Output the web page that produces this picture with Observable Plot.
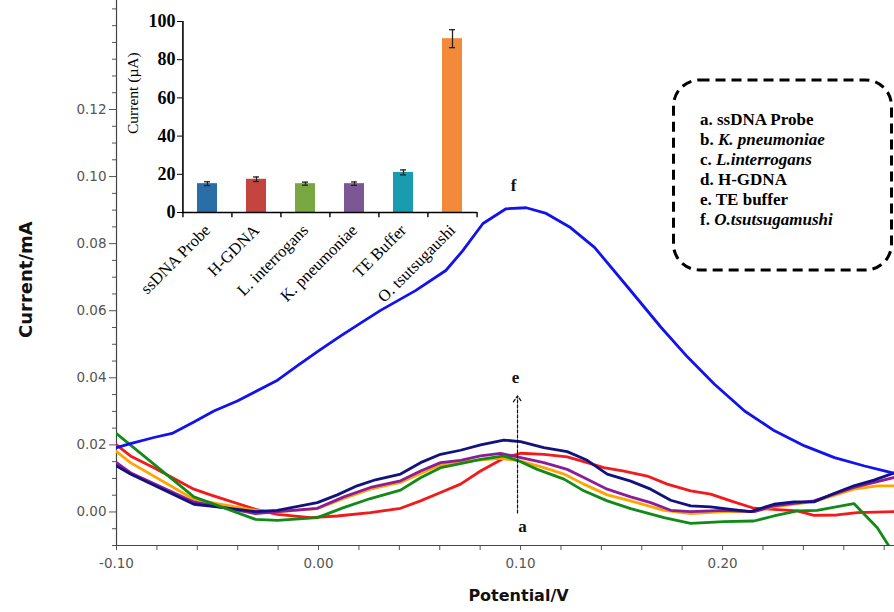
<!DOCTYPE html>
<html><head><meta charset="utf-8">
<script src="https://cdn.jsdelivr.net/npm/d3@7"></script>
<script src="https://cdn.jsdelivr.net/npm/@observablehq/plot@0.6"></script>
<style>
body{margin:0;background:#fff;}
#wrap{position:relative;width:894px;height:612px;overflow:hidden;background:#fff;}
#main,#inset{position:absolute;top:0;}
#main{left:0;}
#inset{left:100px;}
#over{position:absolute;left:0;top:0;pointer-events:none;}
</style></head>
<body>
<div id="wrap"><div id="main"></div><div id="inset"></div>
<svg id="over" width="894" height="612"></svg></div>
<script>
// ---- DPV curves (Potential V, Current mA) ----
const probeV = [-0.100,-0.0617,-0.0312,-0.0204,-0.0006,0.0124,0.0257,0.0406,0.0505,0.0604,0.0703,0.0802,0.0917,0.0984,0.1083,0.1215,0.1313,0.1429,0.1545,0.171,0.1842,0.2006,0.2155,0.2254,0.237,0.2468,0.265,0.2766,0.2851];
const probeI = [0.0234,0.0045,-0.0022,-0.0025,-0.0017,0.0013,0.0040,0.0065,0.0102,0.0132,0.0144,0.0157,0.0167,0.0154,0.0127,0.0098,0.0063,0.0033,0.0010,-0.0017,-0.0034,-0.0029,-0.0027,-0.0012,0.0003,0.0005,0.0025,-0.0047,-0.0128];

const kpnV = [-0.100,-0.0931,-0.0617,-0.0502,-0.0312,-0.0204,-0.0006,0.0125,0.0257,0.0406,0.0505,0.0604,0.0703,0.0802,0.090,0.100,0.1115,0.1215,0.1313,0.1429,0.1545,0.171,0.1842,0.2006,0.2155,0.2254,0.2452,0.265,0.2766,0.2851];
const kpnI = [0.0180,0.0147,0.0038,0.0025,0.0005,0.0000,0.0010,0.0040,0.0068,0.0088,0.0115,0.0140,0.0148,0.0155,0.0160,0.0152,0.0132,0.0113,0.0083,0.0051,0.0033,0.0005,-0.0005,0.0001,0.0001,0.0015,0.0031,0.0068,0.0078,0.0078];

const lintV = [-0.100,-0.0931,-0.0617,-0.0312,-0.0204,-0.0006,0.0125,0.0257,0.0406,0.0505,0.0604,0.0703,0.0802,0.0901,0.0984,0.1115,0.1231,0.1313,0.1429,0.1545,0.1644,0.1743,0.1842,0.2006,0.2155,0.2254,0.2452,0.265,0.2851];
const lintI = [0.0147,0.0117,0.0030,-0.0005,0.0001,0.0011,0.0045,0.0073,0.0093,0.0122,0.0147,0.0154,0.0167,0.0175,0.0164,0.0147,0.0127,0.0103,0.0068,0.0045,0.0028,0.0005,0.0001,0.0005,0.0001,0.0018,0.0033,0.0073,0.0103];

const hgdnaV = [-0.100,-0.0931,-0.0815,-0.0617,-0.0535,-0.0312,-0.0204,-0.004,0.0093,0.0257,0.0406,0.0505,0.0604,0.0703,0.0802,0.0917,0.100,0.1115,0.1231,0.133,0.1412,0.1512,0.1627,0.1726,0.1842,0.1941,0.204,0.2155,0.2254,0.237,0.2452,0.2567,0.2666,0.2851];
const hgdnaI = [0.0200,0.0167,0.0132,0.0068,0.0051,0.0008,-0.0007,-0.0017,-0.0012,-0.0002,0.0011,0.0033,0.0058,0.0083,0.0122,0.0160,0.0175,0.0172,0.0164,0.0147,0.0132,0.0122,0.0107,0.0083,0.0063,0.0053,0.0033,0.0011,0.0008,0.0003,-0.0010,-0.0009,-0.0002,0.0001];

const teV = [-0.100,-0.0931,-0.0617,-0.0502,-0.0312,-0.0204,-0.0006,0.0093,0.0191,0.0282,0.0406,0.0505,0.0604,0.0703,0.0802,0.0917,0.100,0.1115,0.1231,0.133,0.1429,0.1545,0.1644,0.1743,0.1842,0.1941,0.204,0.2139,0.2254,0.2353,0.2452,0.2551,0.265,0.2749,0.2851];
const teI = [0.0137,0.0113,0.0023,0.0015,0.0001,0.0005,0.0028,0.0051,0.0078,0.0096,0.0113,0.0147,0.0172,0.0184,0.0200,0.0214,0.0210,0.0192,0.0180,0.0154,0.0113,0.0092,0.0068,0.0035,0.0018,0.0015,0.0008,0.0001,0.0023,0.0030,0.0030,0.0055,0.0078,0.0095,0.0117];

const otsuV = [-0.100,-0.0931,-0.0815,-0.0725,-0.0617,-0.0518,-0.0402,-0.0208,-0.0104,0.000,0.011,0.021,0.0307,0.048,0.063,0.0714,0.0814,0.0928,0.1028,0.1127,0.1247,0.1366,0.1531,0.1696,0.1828,0.196,0.2109,0.2257,0.2406,0.2554,0.2703,0.2851];
const otsuI = [0.0192,0.0204,0.0222,0.0234,0.0268,0.0301,0.0331,0.0391,0.0436,0.0480,0.0525,0.0564,0.0601,0.0660,0.0720,0.0779,0.0860,0.0904,0.0907,0.0890,0.0848,0.0789,0.0670,0.0550,0.0461,0.0381,0.0301,0.0242,0.0197,0.0162,0.0137,0.0115];

const seriesColors = {hgdna:"#f21a1a", kpn:"#ffa500", lint:"#8b1e98", te:"#12127e", probe:"#118a16", otsu:"#1212ee"};

const yMajor = [0, 0.02, 0.04, 0.06, 0.08, 0.10, 0.12];
const xMajor = [-0.10, 0.00, 0.10, 0.20];

// annotations
const annoText = ["f", "e", "a"];
const annoV = [0.0965, 0.0975, 0.101];
const annoI = [0.0973, 0.0400, -0.0042];

// ---- inset bar chart ----
const barCats = ["ssDNA Probe", "H-GDNA", "L. interrogans", "K. pneumoniae", "TE Buffer", "O. tsutsugaushi"];
const barVals = [15.1, 17.4, 15.1, 15.1, 21.0, 91.0];
const barErrs = [1.0, 1.2, 0.8, 0.9, 1.3, 4.7];
const barColors = ["#2a6ea8", "#c4453f", "#79a842", "#7b5893", "#1a9cb0", "#f28a3a"];
const barTicks = [0, 20, 40, 60, 80, 100];

// ---- build main chart ----
const tbl = (vs, is) => vs.map((v, k) => ({v, i: is[k]}));
const yMinor = d3.range(-0.01, 0.1526, 0.005).map(d => +d.toFixed(3)).filter(d => !yMajor.some(m => Math.abs(m - d) < 1e-9));
const xMinor = d3.range(-0.10, 0.2851, 0.02).map(d => +d.toFixed(3));

const lineOpts = (c) => ({x: "v", y: "i", stroke: c, strokeWidth: 2.8, clip: true, strokeLinejoin: "round"});
const fmt = d => d.toFixed(2);

const main = Plot.plot({
  width: 894, height: 612,
  marginLeft: 116, marginRight: 0, marginTop: 0, marginBottom: 67,
  x: {domain: [-0.10, 0.2851]},
  y: {domain: [-0.01, 0.1525]},
  style: {background: "transparent", fontFamily: "DejaVu Sans"},
  marks: [
    Plot.axisY({ticks: yMinor, tickSize: 4, tickFormat: () => "", label: null, color: "#555"}),
    Plot.axisY({ticks: yMajor, tickSize: 7, tickPadding: 3, tickFormat: fmt, label: null, color: "#555", fontSize: 13.5}),
    Plot.axisX({ticks: xMinor, tickSize: 5, tickPadding: 8, tickFormat: d => xMajor.some(m => Math.abs(m - d) < 1e-9) ? fmt(d) : "", label: null, color: "#555", fontSize: 13.5}),
    Plot.ruleX([-0.10], {stroke: "#444", strokeWidth: 1.2}),
    Plot.ruleY([-0.01], {stroke: "#444", strokeWidth: 1.2}),
    Plot.line(tbl(hgdnaV, hgdnaI), lineOpts(seriesColors.hgdna)),
    Plot.line(tbl(kpnV, kpnI), lineOpts(seriesColors.kpn)),
    Plot.line(tbl(lintV, lintI), lineOpts(seriesColors.lint)),
    Plot.line(tbl(teV, teI), lineOpts(seriesColors.te)),
    Plot.line(tbl(probeV, probeI), lineOpts(seriesColors.probe)),
    Plot.line(tbl(otsuV, otsuI), lineOpts(seriesColors.otsu)),
    Plot.arrow([{x1: 0.0985, y1: -0.0003, x2: 0.0985, y2: 0.0346}], {x1: "x1", y1: "y1", x2: "x2", y2: "y2", stroke: "#111", strokeWidth: 1.2, strokeDasharray: "3,2", headLength: 9, headAngle: 70}),
    Plot.text(annoText.map((t, k) => ({t, v: annoV[k], i: annoI[k]})), {x: "v", y: "i", text: "t", fontFamily: "Liberation Serif", fontWeight: "bold", fontSize: 17, fill: "#111"}),
    Plot.text(["Potential/V"], {frameAnchor: "bottom", dy: 55, dx: 13, fontWeight: "bold", fontSize: 16, fill: "#111", fontFamily: "DejaVu Sans"}),
    Plot.text(["Current/mA"], {frameAnchor: "left", dx: -90, dy: 65, rotate: -90, fontWeight: "bold", fontSize: 18, fill: "#111", fontFamily: "DejaVu Sans"})
  ]
});
document.getElementById("main").appendChild(main);

// ---- build inset ----
const barTable = barCats.map((c, k) => ({cat: c, val: barVals[k], err: barErrs[k]}));
const step = (400 - 82 - 23) / barCats.length;
const inset = Plot.plot({
  width: 400, height: 350,
  marginLeft: 82, marginRight: 23, marginTop: 21, marginBottom: 138,
  x: {domain: barCats, paddingInner: 0.59, paddingOuter: 0.295},
  y: {domain: [0, 100]},
  color: {domain: barCats, range: barColors},
  style: {background: "transparent", fontFamily: "Liberation Serif", color: "#000", overflow: "visible"},
  marks: [
    Plot.barY(barTable, {x: "cat", y: "val", fill: "cat"}),
    Plot.ruleX(barTable, {x: "cat", y1: d => d.val - d.err, y2: d => d.val + d.err, stroke: "#222", strokeWidth: 1.3}),
    Plot.tickY(barTable, {x: "cat", y: d => d.val + d.err, stroke: "#222", strokeWidth: 1.3, insetLeft: 7, insetRight: 7}),
    Plot.tickY(barTable, {x: "cat", y: d => d.val - d.err, stroke: "#222", strokeWidth: 1.3, insetLeft: 7, insetRight: 7}),
    Plot.ruleY([0], {stroke: "#000", strokeWidth: 1.6}),
    Plot.ruleX([barCats[0]], {dx: -step / 2, y1: 0, y2: 100, stroke: "#000", strokeWidth: 1.6}),
    Plot.ruleX(barCats, {dx: -step / 2, y1: 0, y2: -2.8, stroke: "#000", strokeWidth: 1.4}),
    Plot.ruleX([barCats[barCats.length - 1]], {dx: step / 2, y1: 0, y2: -2.8, stroke: "#000", strokeWidth: 1.4}),
    Plot.axisY({ticks: barTicks, tickSize: 5, tickPadding: 2, label: null, fontSize: 18, fontWeight: "bold", color: "#000"}),
    Plot.axisX({tickSize: 0, tickRotate: -45, tickPadding: 15, label: null, fontSize: 16.5, color: "#000"}),
    Plot.text(["Current (µA)"], {frameAnchor: "left", dx: -49, dy: 17, rotate: -90, fontSize: 15.5, fill: "#000"})
  ]
});
document.getElementById("inset").appendChild(inset);

// ---- legend box ----
const over = d3.select("#over");
over.append("rect").attr("x", 673.5).attr("y", 80).attr("width", 218).attr("height", 190)
  .attr("rx", 26).attr("fill", "none").attr("stroke", "#000").attr("stroke-width", 3).attr("stroke-dasharray", "10 6");
const legendRows = [["a. ", "ssDNA Probe", false], ["b. ", "K. pneumoniae", true], ["c. ", "L.interrogans", true],
  ["d. ", "H-GDNA", false], ["e. ", "TE buffer", false], ["f. ", "O.tsutsugamushi", true]];
legendRows.forEach((r, k) => {
  const t = over.append("text").attr("x", 700).attr("y", 125 + k * 20)
    .attr("font-family", "Liberation Serif").attr("font-weight", "bold").attr("font-size", 17).attr("fill", "#000");
  t.append("tspan").text(r[0]);
  t.append("tspan").attr("font-style", r[2] ? "italic" : "normal").text(r[1]);
});
</script>
</body></html>
